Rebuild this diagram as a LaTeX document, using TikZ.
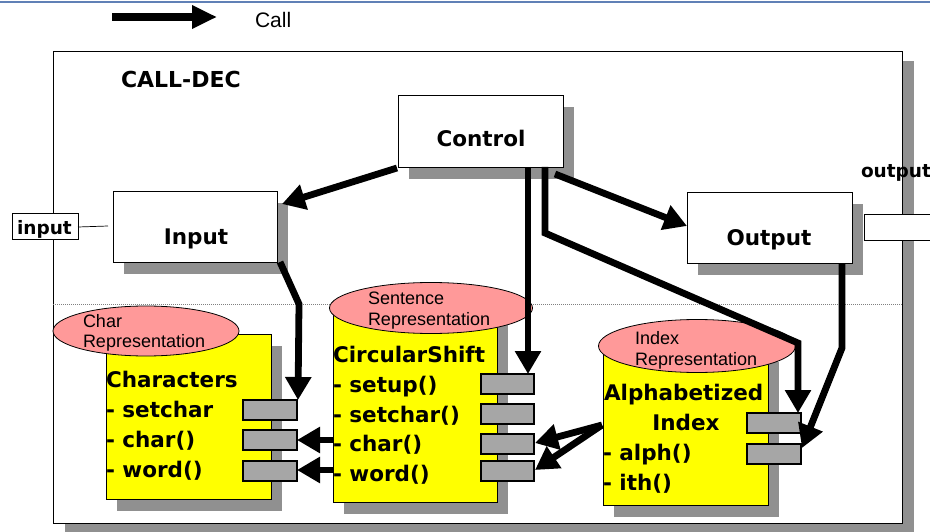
\documentclass[tikz,border=0pt]{standalone}
\usepackage{fontspec}
\setmainfont{DejaVu Sans}
\newfontfamily\arfont{Liberation Sans}
\usetikzlibrary{arrows.meta,shadows,shapes.geometric}
\definecolor{shadowgray}{RGB}{144,144,144}
\definecolor{portgray}{RGB}{166,166,166}
\definecolor{classyellow}{RGB}{255,255,0}
\definecolor{reprpink}{RGB}{255,153,153}
\definecolor{rulecol}{RGB}{96,128,182}
\begin{document}
\begin{tikzpicture}[x=1pt,y=-1pt,line join=miter,
  every node/.style={inner sep=0pt,outer sep=0pt},
  sh/.style={drop shadow={shadow xshift=11pt,shadow yshift=-12pt,fill=shadowgray,opacity=1,draw=none}},
  procbox/.style={draw=black,line width=0.9pt,fill=white,anchor=north west,sh},
  classbox/.style={draw=black,line width=0.9pt,fill=classyellow,anchor=north west,sh},
  repr/.style={ellipse,draw=black,line width=0.8pt,fill=reprpink},
  portbox/.style={draw=black,line width=1.4pt,fill=portgray,anchor=north west,minimum width=54pt,minimum height=20pt},
  iobox/.style={draw=black,line width=0.8pt,fill=white,anchor=north west},
  bigtxt/.style={font=\fontsize{21.5}{25}\selectfont\bfseries,anchor=base west},
  smalltxt/.style={font=\fontsize{18.5}{21}\selectfont\bfseries,anchor=base west},
  reprtxt/.style={font=\arfont\fontsize{18}{21}\selectfont,anchor=base west},
  callarrow/.style={line width=6.8pt,-{Triangle[length=23pt,width=25pt]}}]

\useasboundingbox (0,0) rectangle (930,532);

% header rule and legend
\draw[rulecol,line width=1.6pt] (0,2) -- (930,2);
\coordinate (legA) at (112,17);
\coordinate (legB) at (217,17);
\draw[line width=7.5pt,-{Triangle[length=25pt,width=22pt]}] (legA) -- (legB);
\node[font=\arfont\fontsize{21}{24}\selectfont,anchor=base west] (calltxt) at (255,28) {Call};

% enclosing module
\node[draw=black,line width=1pt,fill=white,anchor=north west,minimum width=849pt,minimum height=471pt,
      drop shadow={shadow xshift=12pt,shadow yshift=-9pt,fill=shadowgray,opacity=1,draw=none}] (calldec) at (53,52) {};
\node[font=\fontsize{22}{25}\selectfont\bfseries,anchor=base west] (calldectxt) at (121,88) {CALL-DEC};
\draw[gray,line width=0.6pt,dash pattern=on 1pt off 1pt] (53,304) -- (902,304);

% external ports
\node[iobox,minimum width=66pt,minimum height=26pt] (inport) at (12,213) {};
\node[smalltxt] (inporttxt) at (17,235) {input};
\coordinate (inlineA) at (78,227);
\coordinate (inlineB) at (108,226);
\draw[line width=0.7pt] (inlineA) -- (inlineB);
\node[iobox,minimum width=80pt,minimum height=26pt] (outport) at (864,214) {};
\node[smalltxt] (outporttxt) at (861,178) {output};

% processing modules
\node[procbox,minimum width=165pt,minimum height=72pt] (ctrl) at (398,95) {};
\node[font=\fontsize{21.5}{25}\selectfont\bfseries,anchor=base] (ctrltxt) at (481,147) {Control};
\node[procbox,minimum width=164pt,minimum height=71pt] (inp) at (113,191) {};
\node[font=\fontsize{21.5}{25}\selectfont\bfseries,anchor=base] (inptxt) at (196,244) {Input};
\node[procbox,minimum width=165pt,minimum height=71pt] (outp) at (687,192) {};
\node[font=\fontsize{21.5}{25}\selectfont\bfseries,anchor=base] (outptxt) at (769,245) {Output};

% data modules
\node[classbox,minimum width=165pt,minimum height=165pt] (chars) at (106,334) {};
\node[repr,minimum width=186pt,minimum height=50pt] (charsrep) at (146,331) {};
\node[reprtxt] (charsrep1) at (83,327) {Char};
\node[reprtxt] (charsrep2) at (83,347) {Representation};
\node[bigtxt] (charsT) at (106,387) {Characters};
\node[bigtxt] (charsL1) at (106,417) {- setchar};
\node[bigtxt] (charsL2) at (106,447) {- char()};
\node[bigtxt] (charsL3) at (106,477) {- word()};
\node[portbox] (chp1) at (243,400) {};
\node[portbox] (chp2) at (243,430) {};
\node[portbox] (chp3) at (243,461) {};

\node[classbox,minimum width=164pt,minimum height=190pt] (circ) at (333,312) {};
\node[repr,minimum width=203pt,minimum height=51pt] (circrep) at (431,308) {};
\node[reprtxt] (circrep1) at (368,304) {Sentence};
\node[reprtxt] (circrep2) at (368,325) {Representation};
\node[bigtxt] (circT) at (333,362) {CircularShift};
\node[bigtxt] (circL1) at (333,392) {- setup()};
\node[bigtxt] (circL2) at (333,422) {- setchar()};
\node[bigtxt] (circL3) at (333,451) {- char()};
\node[bigtxt] (circL4) at (333,481) {- word()};
\node[portbox,minimum width=53pt] (csp1) at (481,374) {};
\node[portbox,minimum width=53pt] (csp2) at (481,404) {};
\node[portbox,minimum width=53pt] (csp3) at (481,434) {};
\node[portbox,minimum width=53pt] (csp4) at (481,461) {};

\node[classbox,minimum width=165pt,minimum height=155pt] (alpha) at (603,350) {};
\node[repr,minimum width=197pt,minimum height=53pt] (alpharep) at (697,346) {};
\node[reprtxt] (alpharep1) at (635,344) {Index};
\node[reprtxt] (alpharep2) at (635,365) {Representation};
\node[bigtxt] (alphaT1) at (604,400) {Alphabetized};
\node[font=\fontsize{21.5}{25}\selectfont\bfseries,anchor=base] (alphaT2) at (686,430) {Index};
\node[bigtxt] (alphaL1) at (603,460) {- alph()};
\node[bigtxt] (alphaL2) at (603,490) {- ith()};
\node[portbox] (alp1) at (747,413) {};
\node[portbox] (alp2) at (747,444) {};

% call connectors
\coordinate (c1s) at (397,168);   \coordinate (c1e) at (282,204);
\coordinate (c2s) at (280,262);   \coordinate (c2m) at (299,304); \coordinate (c2e) at (298,400);
\coordinate (c3s) at (528,167);   \coordinate (c3e) at (528,374);
\coordinate (c4s) at (545,167);   \coordinate (c4m) at (545,233);
\coordinate (c4n) at (798,343);   \coordinate (c4e) at (798,413);
\coordinate (c5s) at (555,174);   \coordinate (c5e) at (687,226);
\coordinate (c6s) at (842,263);   \coordinate (c6m) at (842,348); \coordinate (c6e) at (802,448);
\coordinate (c7s) at (602,425);   \coordinate (c7e) at (535,443);
\coordinate (c8e) at (535,470);
\coordinate (c9s) at (333,440);   \coordinate (c9e) at (297,440);
\coordinate (c10s) at (333,470);  \coordinate (c10e) at (297,470);

\draw[callarrow] (c1s) -- (c1e);
\draw[callarrow] (c2s) -- (c2m) -- (c2e);
\draw[callarrow] (c3s) -- (c3e);
\draw[callarrow] (c4s) -- (c4m) -- (c4n) -- (c4e);
\draw[callarrow] (c5s) -- (c5e);
\draw[callarrow] (c6s) -- (c6m) -- (c6e);
\draw[callarrow] (c7s) -- (c7e);
\draw[callarrow] (c7s) -- (c8e);
\draw[callarrow] (c9s) -- (c9e);
\draw[callarrow] (c10s) -- (c10e);
\end{tikzpicture}
\end{document}
